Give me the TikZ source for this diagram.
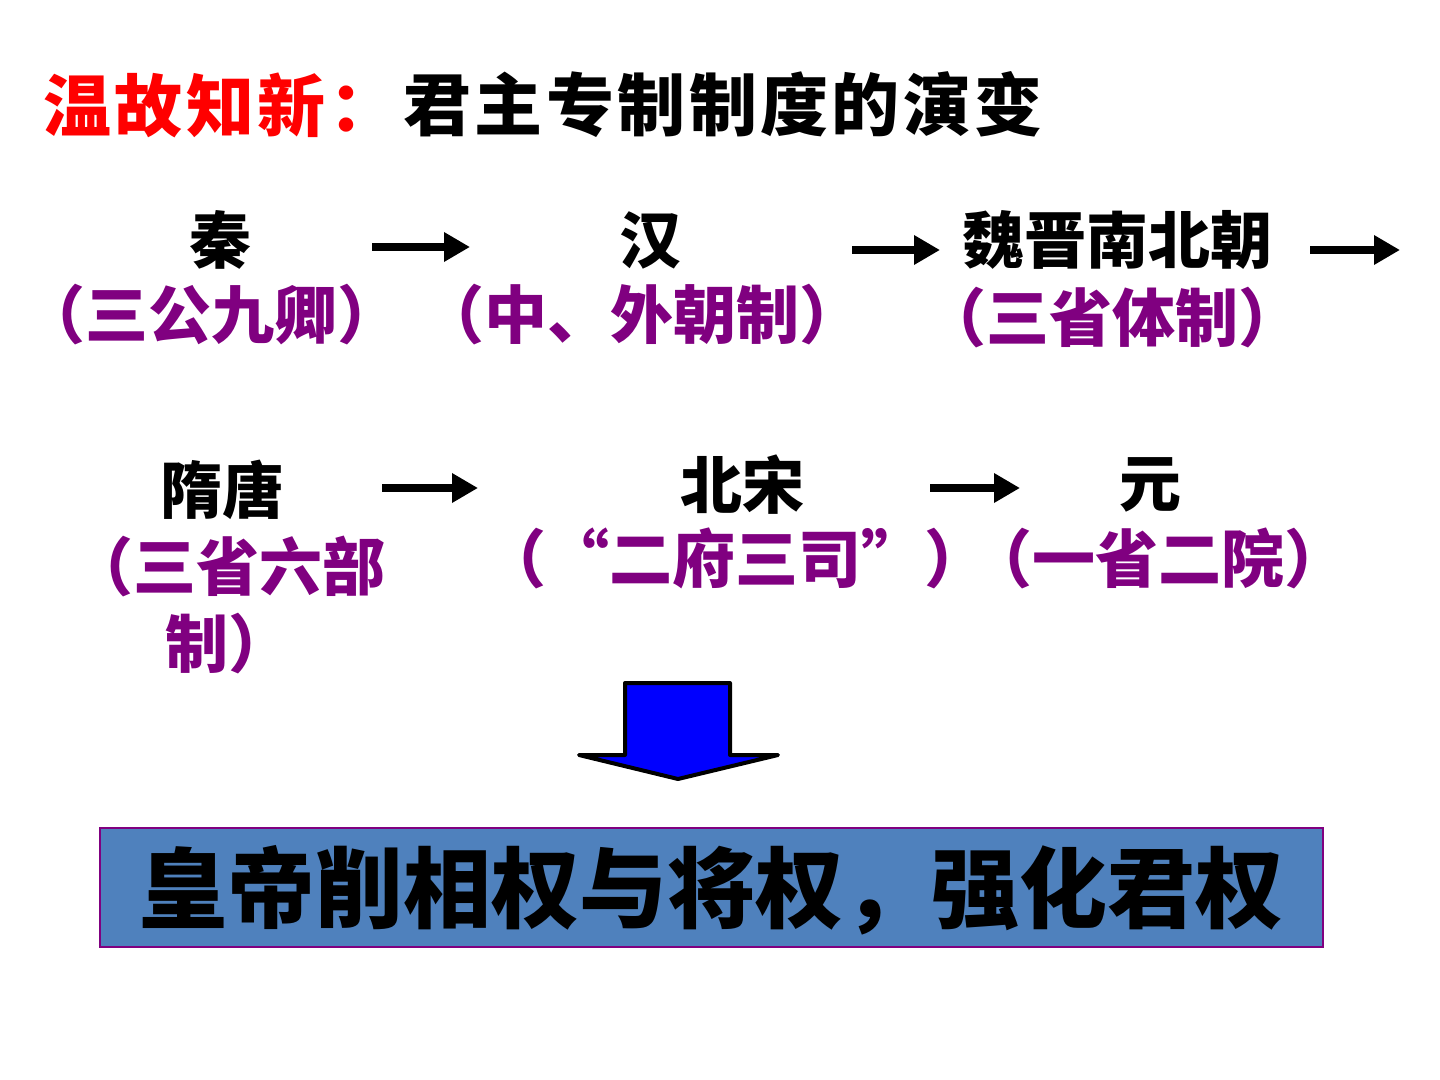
\documentclass[tikz,border=0pt]{standalone}
\usepackage{fontspec}
\usetikzlibrary{arrows.meta}
\newfontfamily\cjk{Noto Sans CJK SC}
\definecolor{dynpurple}{HTML}{800080}
\definecolor{boxblue}{HTML}{4F81BD}
\tikzset{
	x=0.5pt, y=-0.5pt,
	every node/.style={inner sep=0pt, font=\cjk\bfseries},
	heading/.style={anchor=west, font=\cjk\bfseries\fontsize{34}{38}\selectfont\addfontfeatures{LetterSpace=5}},
	era/.style={font=\cjk\bfseries\fontsize{31}{36}\selectfont},
	office/.style={text=dynpurple, font=\cjk\bfseries\fontsize{31.5}{38.5}\selectfont},
	flow/.style={-{Triangle[length=13pt,width=14pt]}, line width=4pt},
	baseline}

\begin{document}
\begin{tikzpicture}
		\useasboundingbox (0,0) rectangle (1440,1080);
		\node[heading, text=red] (t1) at (43,105) {温故知新：};
		\node[heading] (t2) at (403,105) {君主专制制度的演变};
		
		\node[era] (qin) at (220,240) {秦};
		\node[era] (han) at (650,240) {汉};
		\node[era] (wei) at (1117,240) {魏晋南北朝};
		\node[office] (o1) at (212,315) {（三公九卿）};
		\node[office] (o2) at (642,315) {（中、外朝制）};
		\node[office] (o3) at (1112,318) {（三省体制）};
		
		\node[era] (sui) at (222,490) {隋唐};
		\node[era] (song) at (742,485) {北宋};
		\node[era] (yuan) at (1150,485) {元};
		\node[office, align=center] (o4) at (228,605) {（三省六部\\制）};
		\node[office] (o5) at (735,558) {（“二府三司”）};
		\node[office] (o6) at (1158,558) {（一省二院）};
		
		\coordinate (a1) at (372,247); \coordinate (b1) at (470,247);
		\coordinate (a2) at (852,250); \coordinate (b2) at (940,250);
		\coordinate (a3) at (1310,250); \coordinate (b3) at (1400,250);
		\coordinate (a4) at (382,488); \coordinate (b4) at (478,488);
		\coordinate (a5) at (930,488); \coordinate (b5) at (1020,488);
		\draw[flow] (a1) -- (b1);
		\draw[flow] (a2) -- (b2);
		\draw[flow] (a3) -- (b3);
		\draw[flow] (a4) -- (b4);
		\draw[flow] (a5) -- (b5);
		
		% big arrow down
		\draw[fill=blue, line width=2pt, line join=round]
		(625,683) -- (730,683) -- (730,755) -- (778,755) -- (678,779)
		-- (579,755) -- (625,755) -- cycle;
		
		\draw[fill=boxblue, draw=dynpurple, line width=0.6pt] (100,828) rectangle (1323,947);
		\node[font=\cjk\bfseries\fontsize{44}{50}\selectfont] (res) at (711,890) {皇帝削相权与将权，强化君权};
	\end{tikzpicture}
\end{document}
